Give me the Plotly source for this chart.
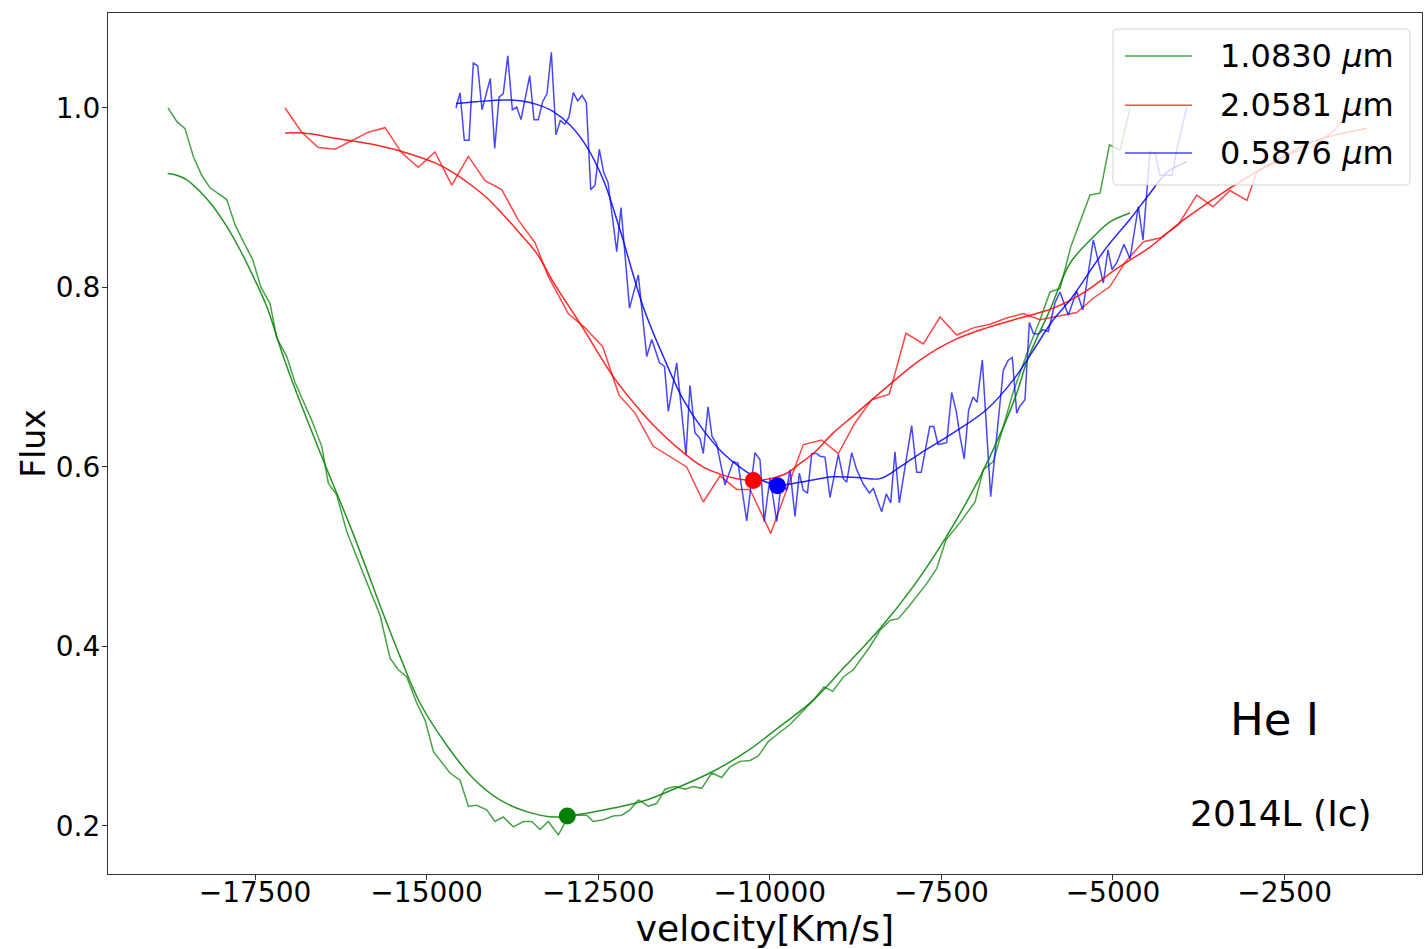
import plotly.graph_objects as go

# ---- He I 1.0830 um: observed profile and smoothed fit ----
v_1083 = [-18768, -18641, -18520, -18399, -18277, -18156, -17912, -17791, -17670, -17534,
          -17413, -17281, -17184, -17038, -16917, -16820, -16674, -16528, -16432, -16310,
          -16164, -15927, -15679, -15533, -15412, -15290, -15144, -15023, -14902, -14659,
          -14513, -14392, -14270, -14124, -14003, -13883, -13737, -13591, -13469, -13348,
          -13227, -13081, -12959, -12813, -12668, -12571, -12426, -12280, -12158, -12037,
          -11916, -11770, -11648, -11527, -11381, -11235, -11114, -10992, -10846, -10701,
          -10580, -10434, -10288, -10167, -10022, -9876, -9706, -9531, -9366, -9210,
          -9083, -8929, -8783, -8540, -8394, -8249, -8128, -7982, -7714, -7568,
          -7433, -7229, -7010, -6889, -6744, -6598, -6452, -6209, -6063, -5918,
          -5772, -5612, -5505, -5335, -5189, -5051, -4898, -4752]
f_1083 = [1.000, 0.985, 0.977, 0.946, 0.925, 0.911, 0.898, 0.870, 0.851, 0.831,
          0.800, 0.782, 0.744, 0.723, 0.694, 0.678, 0.652, 0.623, 0.582, 0.569,
          0.528, 0.482, 0.435, 0.387, 0.374, 0.366, 0.337, 0.318, 0.283, 0.259,
          0.251, 0.222, 0.223, 0.218, 0.205, 0.210, 0.199, 0.205, 0.205, 0.196,
          0.205, 0.190, 0.207, 0.212, 0.212, 0.205, 0.207, 0.211, 0.212, 0.218,
          0.229, 0.222, 0.225, 0.241, 0.244, 0.241, 0.244, 0.242, 0.259, 0.254,
          0.266, 0.272, 0.273, 0.278, 0.294, 0.303, 0.313, 0.327, 0.340, 0.355,
          0.350, 0.366, 0.374, 0.400, 0.418, 0.429, 0.431, 0.444, 0.470, 0.487,
          0.519, 0.538, 0.561, 0.597, 0.606, 0.645, 0.684, 0.736, 0.764, 0.795,
          0.799, 0.846, 0.868, 0.903, 0.905, 0.959, 0.953, 1.000]

v_1083_fit = [-18772, -18641, -18495, -18301, -18108, -17912, -17719, -17525, -17330, -17136,
              -16965, -16509, -16072, -15635, -15388, -15096, -14707, -14320, -13931, -13542,
              -13154, -12765, -12280, -11793, -11308, -10823, -10336, -9851, -9370, -8890,
              -8394, -7909, -7520, -7229, -6937, -6646, -6403, -6238, -5918, -5626,
              -5291, -5044, -4752]
f_1083_fit = [0.927, 0.925, 0.920, 0.907, 0.890, 0.868, 0.842, 0.812, 0.779, 0.734,
              0.697, 0.608, 0.526, 0.437, 0.389, 0.337, 0.290, 0.253, 0.229, 0.216,
              0.210, 0.213, 0.220, 0.229, 0.244, 0.261, 0.283, 0.311, 0.340, 0.379,
              0.420, 0.467, 0.511, 0.548, 0.589, 0.636, 0.682, 0.721, 0.775, 0.827,
              0.856, 0.873, 0.883]

# ---- He I 2.0581 um ----
v_2058 = [-17063, -16820, -16578, -16334, -15849, -15606, -15363, -15121, -14878, -14634,
          -14392, -14149, -13906, -13664, -13421, -13227, -12936, -12692, -12434, -12197,
          -11964, -11697, -11211, -10969, -10725, -10482, -10288, -9987, -9512, -9244,
          -9002, -8759, -8515, -8259, -8016, -7763, -7520, -7277, -7035, -6792,
          -6549, -6307, -6063, -5870, -5529, -5287, -5044, -4825, -4558, -4315,
          -4048, -3780, -3543, -3295, -3048, -2906, -2640, -2348, -2057, -1765,
          -1547, -1314]
f_2058 = [1.000, 0.973, 0.956, 0.954, 0.973, 0.978, 0.950, 0.934, 0.951, 0.914,
          0.946, 0.919, 0.909, 0.875, 0.850, 0.812, 0.771, 0.755, 0.734, 0.680,
          0.660, 0.623, 0.600, 0.561, 0.590, 0.575, 0.575, 0.526, 0.625, 0.630,
          0.615, 0.649, 0.675, 0.681, 0.749, 0.737, 0.767, 0.747, 0.755, 0.759,
          0.766, 0.771, 0.764, 0.767, 0.772, 0.788, 0.801, 0.828, 0.851, 0.855,
          0.870, 0.903, 0.890, 0.908, 0.897, 0.929, 0.939, 0.951, 0.958, 0.976,
          0.998, 1.000]

v_2058_fit = [-17063, -16796, -16310, -15825, -15339, -14853, -14611, -14368, -14124, -13883,
              -13639, -13396, -13154, -12765, -12284, -11935, -11702, -11308, -10973, -10725,
              -10482, -10240, -9997, -9754, -9560, -9366, -9075, -8783, -8297, -7812,
              -7326, -6840, -6355, -5870, -5432, -4946, -4461, -3976, -3489, -3101,
              -2519, -2032, -1304]
f_2058_fit = [0.972, 0.972, 0.966, 0.960, 0.951, 0.938, 0.928, 0.915, 0.900, 0.881,
              0.860, 0.838, 0.806, 0.760, 0.701, 0.667, 0.647, 0.619, 0.600, 0.592,
              0.587, 0.585, 0.587, 0.593, 0.604, 0.615, 0.638, 0.657, 0.689, 0.719,
              0.741, 0.755, 0.766, 0.777, 0.794, 0.821, 0.845, 0.875, 0.901, 0.920,
              0.946, 0.964, 0.977]

# ---- He I 0.5876 um ----
v_0587 = [-14572, -14513, -14451, -14382, -14320, -14256, -14193, -14135, -14072, -14008,
          -13945, -13883, -13818, -13751, -13687, -13625, -13562, -13498, -13435, -13373,
          -13309, -13246, -13183, -13115, -13052, -12988, -12925, -12863, -12799, -12736,
          -12673, -12609, -12547, -12484, -12420, -12357, -12230, -12168, -12044, -11916,
          -11793, -11720, -11607, -11534, -11479, -11356, -11221, -11163, -11090, -11017,
          -10969, -10900, -10842, -10776, -10653, -10532, -10463, -10336, -10216, -10143,
          -10081, -9997, -9899, -9827, -9754, -9706, -9633, -9570, -9512, -9451,
          -9389, -9317, -9269, -9196, -9123, -9002, -8929, -8880, -8807, -8734,
          -8638, -8550, -8492, -8370, -8303, -8239, -8176, -8113, -7933, -7860,
          -7794, -7670, -7612, -7549, -7423, -7350, -7283, -7229, -7168, -7104,
          -7039, -6981, -6904, -6782, -6598, -6525, -6467, -6403, -6355, -6282,
          -6219, -6161, -6088, -6024, -5942, -5845, -5772, -5651, -5529, -5441,
          -5287, -5141, -5073, -5014, -4942, -4840, -4752, -4631, -4563, -4461,
          -4388, -4315, -4140, -4072, -3926]
f_0587 = [1.000, 1.017, 0.964, 0.964, 1.050, 1.047, 0.998, 1.016, 1.033, 0.955,
          1.012, 1.016, 1.058, 0.998, 1.001, 0.987, 1.013, 1.036, 0.987, 0.987,
          1.007, 1.016, 1.062, 0.970, 0.986, 0.982, 0.990, 1.017, 1.008, 1.014,
          1.006, 0.909, 0.914, 0.954, 0.928, 0.917, 0.840, 0.889, 0.777, 0.814,
          0.723, 0.742, 0.716, 0.712, 0.662, 0.716, 0.613, 0.691, 0.638, 0.632,
          0.615, 0.667, 0.634, 0.626, 0.580, 0.606, 0.604, 0.540, 0.616, 0.608,
          0.539, 0.588, 0.539, 0.586, 0.574, 0.597, 0.545, 0.593, 0.574, 0.571,
          0.615, 0.615, 0.612, 0.611, 0.566, 0.614, 0.587, 0.583, 0.616, 0.597,
          0.581, 0.571, 0.576, 0.550, 0.570, 0.560, 0.617, 0.560, 0.646, 0.594,
          0.594, 0.645, 0.645, 0.625, 0.627, 0.683, 0.662, 0.634, 0.609, 0.663,
          0.678, 0.672, 0.719, 0.567, 0.708, 0.719, 0.722, 0.660, 0.668, 0.675,
          0.761, 0.749, 0.748, 0.753, 0.751, 0.783, 0.795, 0.769, 0.796, 0.775,
          0.853, 0.805, 0.842, 0.820, 0.828, 0.848, 0.832, 0.890, 0.853, 0.951,
          0.950, 0.925, 0.925, 0.953, 1.001]

v_0587_fit = [-14572, -14270, -13883, -13639, -13396, -13154, -12911, -12668, -12426, -12182,
              -11843, -11551, -11260, -10969, -10677, -10386, -10143, -9891, -9560, -9075,
              -8686, -8394, -8103, -7812, -7326, -6840, -6452, -6161, -5870, -5626,
              -5091, -4752, -4461, -4217, -3926]
f_0587_fit = [1.005, 1.007, 1.009, 1.008, 1.004, 0.996, 0.981, 0.957, 0.920, 0.864,
              0.778, 0.723, 0.675, 0.641, 0.615, 0.597, 0.586, 0.580, 0.583, 0.589,
              0.588, 0.587, 0.600, 0.615, 0.638, 0.664, 0.697, 0.730, 0.764, 0.786,
              0.845, 0.876, 0.905, 0.928, 0.940]

# absorption minima of the fits
min_v = [-12950, -10240, -9888]
min_f = [0.211, 0.585, 0.579]

series_names = ["1.0830 <i>μ</i>m", "2.0581 <i>μ</i>m", "0.5876 <i>μ</i>m"]
series_colors = ["rgba(0,128,0,{a})", "rgba(255,0,0,{a})", "rgba(0,0,255,{a})"]

x_ticks = [-17500, -15000, -12500, -10000, -7500, -5000, -2500]
x_ticktext = ["−17500", "−15000", "−12500", "−10000", "−7500", "−5000", "−2500"]
y_ticks = [0.2, 0.4, 0.6, 0.8, 1.0]
y_ticktext = ["0.2", "0.4", "0.6", "0.8", "1.0"]

FONT = "DejaVu Sans"
fig = go.Figure()

raw = [(v_1083, f_1083), (v_2058, f_2058), (v_0587, f_0587)]
fit = [(v_1083_fit, f_1083_fit), (v_2058_fit, f_2058_fit), (v_0587_fit, f_0587_fit)]

for (vx, fy), col in zip(raw, series_colors):
    fig.add_trace(go.Scatter(x=vx, y=fy, mode="lines",
                             line=dict(color=col.format(a=0.72), width=1.5),
                             showlegend=False, hoverinfo="skip"))
for (vx, fy), col in zip(fit, series_colors):
    fig.add_trace(go.Scatter(x=vx, y=fy, mode="lines", line_shape="spline",
                             line=dict(color=col.format(a=0.85), width=1.5),
                             showlegend=False, hoverinfo="skip"))
for mv, mf, col in zip(min_v, min_f, series_colors):
    fig.add_trace(go.Scatter(x=[mv], y=[mf], mode="markers",
                             marker=dict(color=col.format(a=1), size=17),
                             showlegend=False, hoverinfo="skip"))

axis_common = dict(showline=True, linecolor="#333", linewidth=1.3, mirror=True,
                   ticks="outside", ticklen=5, tickwidth=1.2, tickcolor="#333",
                   showgrid=False, zeroline=False,
                   tickfont=dict(family=FONT, size=28, color="black"))

fig.update_xaxes(range=[-19642, -498], tickmode="array", tickvals=x_ticks,
                 ticktext=x_ticktext, ticklabelstandoff=-12,
                 title=dict(text="velocity[Km/s]", standoff=0,
                            font=dict(family=FONT, size=36, color="black")),
                 **axis_common)
fig.update_yaxes(range=[0.1465, 1.1058], tickmode="array", tickvals=y_ticks,
                 ticktext=y_ticktext, ticklabelstandoff=-4,
                 title=dict(text="Flux", standoff=0,
                            font=dict(family=FONT, size=33, color="black")),
                 **axis_common)

# legend box
x0, x1, y0, y1 = 0.7648, 0.9909, 0.8002, 0.9814
rx, ry = 0.003, 0.0046
box = (f"M {x0+rx},{y0} L {x1-rx},{y0} Q {x1},{y0} {x1},{y0+ry} "
       f"L {x1},{y1-ry} Q {x1},{y1} {x1-rx},{y1} L {x0+rx},{y1} "
       f"Q {x0},{y1} {x0},{y1-ry} L {x0},{y0+ry} Q {x0},{y0} {x0+rx},{y0} Z")
shapes = [dict(type="path", path=box, xref="paper", yref="paper", layer="above",
               fillcolor="rgba(255,255,255,0.8)", line=dict(color="rgba(204,204,204,0.8)", width=1))]
annotations = []
entry_y = [0.950, 0.893, 0.8374]
for name, col, yy in zip(series_names, series_colors, entry_y):
    shapes.append(dict(type="line", xref="paper", yref="paper", layer="above",
                       x0=0.774, x1=0.825, y0=yy, y1=yy,
                       line=dict(color=col.format(a=0.72), width=1.5)))
    annotations.append(dict(text=name, xref="paper", yref="paper", x=0.8447, y=yy,
                            xanchor="left", yanchor="middle", showarrow=False,
                            font=dict(family=FONT, size=32, color="black")))

annotations.append(dict(text="He I", xref="paper", yref="paper", x=0.888, y=0.179,
                        xanchor="center", yanchor="middle", showarrow=False,
                        font=dict(family=FONT, size=45, color="black")))
annotations.append(dict(text="2014L (Ic)", xref="paper", yref="paper", x=0.893, y=0.0708,
                        xanchor="center", yanchor="middle", showarrow=False,
                        font=dict(family=FONT, size=36, color="black")))

fig.update_layout(width=1426, height=949,
                  margin=dict(l=108, r=4, t=13, b=75, autoexpand=False),
                  paper_bgcolor="white", plot_bgcolor="white",
                  shapes=shapes, annotations=annotations, showlegend=False)

fig.write_html("out.html")
